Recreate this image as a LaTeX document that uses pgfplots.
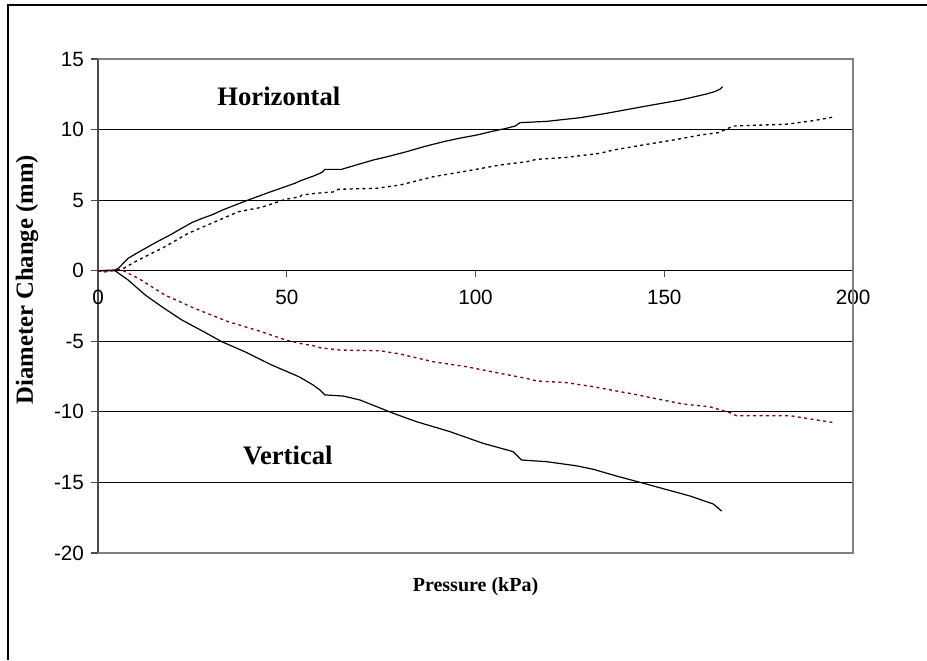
\documentclass[border=0pt]{standalone}
\usepackage{pgfplots}
\pgfplotsset{compat=1.18}
\usepackage{fontspec}
\setmainfont{Liberation Serif}
\newfontfamily\arial{Liberation Sans}
\definecolor{dred}{HTML}{800000}
\definecolor{boxgray}{HTML}{808080}

\begin{document}
\begin{tikzpicture}
\useasboundingbox (0,0) rectangle (695.25pt,495pt);
% outer chart frame (right and bottom edges fall outside the picture)
\draw[line width=1.1pt] (6pt,0) -- (6pt,491.25pt) -- (700pt,491.25pt);

\begin{axis}[
    at={(73.5pt,80.25pt)}, anchor=south west,
    scale only axis,
    width=566.25pt, height=370.5pt,
    xmin=0, xmax=200, ymin=-20, ymax=15,
    axis x line=middle, axis y line=left,
    x axis line style={-, black, line width=0.8pt},
    y axis line style={-, black!70, line width=1pt},
    xtick={0,50,100,150,200},
    ytick={-20,-15,...,15},
    hide obscured x ticks=false,
    xtick align=outside, ytick align=outside,
    major tick length=5pt,
    tick style={black!70, line width=0.8pt},
    ymajorgrids,
    grid style={black, line width=0.8pt},
    /pgf/number format/assume math mode=true,
    ticklabel style={font=\arial\fontsize{15.5}{18}\selectfont},
    xticklabel style={yshift=-6pt},
    yticklabel style={xshift=-2pt},
    clip=false,
]
\draw[boxgray, line width=1.3pt] (rel axis cs:0,0) -- (rel axis cs:1,0) -- (rel axis cs:1,1) -- (rel axis cs:0,1);

% horizontal, solid
\addplot[black, line width=0.9pt] coordinates {
(0,0) (4.5,0.05) (5.5,0.2) (8,0.88) (10,1.2) (13.3,1.7) (16,2.1) (18.6,2.46)
(21.5,2.9) (24.8,3.4) (27.5,3.7) (30.1,3.95) (33,4.3) (36.3,4.65) (40.3,5.06)
(45.1,5.53) (48.5,5.85) (52.2,6.2) (53.5,6.36) (57,6.7) (58.8,6.9) (59.5,7.0)
(60.1,7.18) (64.5,7.18) (68.5,7.5) (72.9,7.84) (77,8.1) (81.7,8.43) (86.5,8.8)
(91.5,9.14) (96,9.4) (100.3,9.61) (104,9.85) (108.2,10.09) (110.5,10.25)
(111.8,10.49) (118.8,10.58) (127.7,10.84) (134.7,11.15) (145.3,11.67)
(154.2,12.09) (161.2,12.52) (163.5,12.7) (164.8,12.87) (165.5,13.04)
};
% horizontal, dashed
\addplot[black, line width=1pt, dash pattern=on 2.2pt off 2.6pt] coordinates {
(0,0) (5,0.02) (6.3,0.1) (10.7,0.76) (17.7,1.7) (23.9,2.65) (30.1,3.36)
(37.2,4.18) (43.3,4.49) (49.7,5.06) (53.5,5.24) (54,5.36) (57.5,5.48)
(62.3,5.58) (63.7,5.77) (73.8,5.84) (80,6.07) (88.8,6.66) (97.6,7.06)
(106.5,7.49) (113.5,7.72) (116.2,7.89) (124.1,8.03) (133,8.32) (136.5,8.55)
(145.3,8.95) (152.4,9.26) (159.5,9.61) (164.3,9.78) (166.5,10.04)
(168.3,10.25) (182.4,10.38) (189.5,10.63) (195.2,10.91)
};
% vertical, solid
\addplot[black, line width=0.9pt] coordinates {
(0,0) (4.5,0) (8,-0.66) (12.5,-1.72) (16.9,-2.55) (22.2,-3.49) (27.5,-4.25)
(32.8,-5.03) (38.9,-5.74) (46,-6.68) (52.2,-7.39) (53.5,-7.55) (57,-8.1)
(58.8,-8.45) (60.1,-8.8) (65,-8.88) (69.4,-9.16) (78.2,-10.1) (84.4,-10.7)
(93.2,-11.4) (102,-12.23) (110,-12.82) (111,-13.1) (112.2,-13.41)
(118.8,-13.53) (126.7,-13.82) (131.2,-14.07) (137.4,-14.55) (144.5,-15.06)
(156.8,-15.96) (163,-16.53) (165.2,-17.03)
};
% vertical, dashed
\addplot[dred, line width=1pt, dash pattern=on 2.2pt off 2.6pt] coordinates {
(0,0) (1.6,-0.1) (5.4,0.1) (6.3,0.05) (10.7,-0.54) (17.7,-1.72) (25.6,-2.67)
(34.5,-3.61) (43.3,-4.32) (49.7,-4.91) (53.5,-5.15) (57.5,-5.34) (58.8,-5.46)
(64.1,-5.62) (74.7,-5.67) (80,-5.9) (88.8,-6.45) (97.6,-6.8) (106.5,-7.27)
(113.5,-7.63) (116.2,-7.81) (124.1,-7.93) (131.2,-8.22) (141.8,-8.74)
(154.8,-9.44) (162,-9.64) (167.4,-10.06) (169.1,-10.27) (183.3,-10.27)
(190.4,-10.58) (195.2,-10.77)
};

\node[font=\bfseries\fontsize{20}{24}\selectfont] at (axis cs:47.9,12.38) {Horizontal};
\node[font=\bfseries\fontsize{20}{24}\selectfont] at (axis cs:50.3,-13.06) {Vertical};
\node[font=\bfseries\fontsize{15}{18}\selectfont] at ([yshift=-25.5pt]rel axis cs:0.5,0) {Pressure (kPa)};
\node[font=\bfseries\fontsize{18.5}{21}\selectfont, rotate=90] at ([xshift=-53.25pt]rel axis cs:0,0.553) {Diameter Change (mm)};
\end{axis}
\end{tikzpicture}
\end{document}
